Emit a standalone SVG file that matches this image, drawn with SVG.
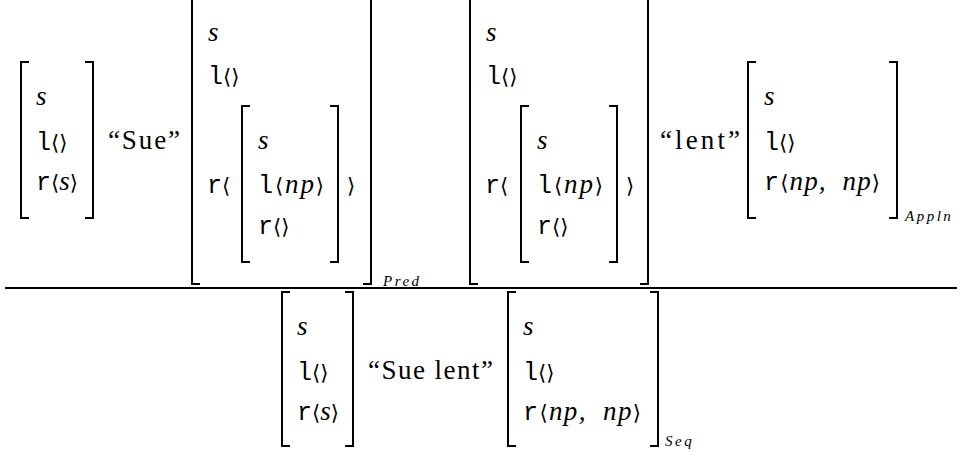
<svg xmlns="http://www.w3.org/2000/svg" width="961" height="452" viewBox="0 0 961 452">
<style>
.br{fill:none;stroke:#000;stroke-width:2}
.tt{font-family:'Liberation Mono',monospace;font-size:25px}
.it{font-family:'Liberation Serif',serif;font-style:italic;font-size:27px}
.ang{font-family:'DejaVu Sans',sans-serif;font-size:21px}
.rm{font-family:'Liberation Serif',serif;font-size:27px}
.sub{font-family:'Liberation Serif',serif;font-style:italic;font-size:15px;letter-spacing:2.5px}
text{fill:#000}
</style>
<rect width="961" height="452" fill="#fff"/>

<g id="matA">
<path class="br" d="M29,62H21V218H29M85,62H93V218H85"/>
<text x="36" y="105" class="it">s</text>
<text x="36" y="150"><tspan class="tt">l</tspan><tspan class="ang">⟨⟩</tspan></text>
<text x="36" y="190"><tspan class="tt">r</tspan><tspan class="ang">⟨</tspan><tspan class="it">s</tspan><tspan class="ang">⟩</tspan></text>
</g>

<g id="wordSue">
<text x="108" y="149" class="rm" textLength="72" lengthAdjust="spacing">“Sue”</text>
</g>

<g id="matB">
<path class="br" d="M200,-4H192V284H200M363,-4H371V284H363"/>
<text x="208" y="41" class="it">s</text>
<text x="208" y="84"><tspan class="tt">l</tspan><tspan class="ang">⟨⟩</tspan></text>
<text x="207" y="193"><tspan class="tt">r</tspan><tspan class="ang">⟨</tspan></text>
<path class="br" d="M250,106H242V262H250M330,106H338V262H330"/>
<text x="258" y="149" class="it">s</text>
<text x="258" y="193" textLength="66" lengthAdjust="spacing"><tspan class="tt">l</tspan><tspan class="ang">⟨</tspan><tspan class="it">np</tspan><tspan class="ang">⟩</tspan></text>
<text x="258" y="234"><tspan class="tt">r</tspan><tspan class="ang">⟨⟩</tspan></text>
<text x="347" y="193" class="ang">⟩</text>
<text x="383" y="286" class="sub">Pred</text>
</g>

<g id="matC">
<path class="br" d="M478,-4H470V284H478M640,-4H648V284H640"/>
<text x="486" y="41" class="it">s</text>
<text x="486" y="84"><tspan class="tt">l</tspan><tspan class="ang">⟨⟩</tspan></text>
<text x="485" y="193"><tspan class="tt">r</tspan><tspan class="ang">⟨</tspan></text>
<path class="br" d="M529,106H521V262H529M609,106H617V262H609"/>
<text x="537" y="149" class="it">s</text>
<text x="537" y="193" textLength="66" lengthAdjust="spacing"><tspan class="tt">l</tspan><tspan class="ang">⟨</tspan><tspan class="it">np</tspan><tspan class="ang">⟩</tspan></text>
<text x="537" y="234"><tspan class="tt">r</tspan><tspan class="ang">⟨⟩</tspan></text>
<text x="626" y="193" class="ang">⟩</text>
</g>

<g id="wordLent">
<text x="660" y="149" class="rm" textLength="80" lengthAdjust="spacing">“lent”</text>
</g>

<g id="matD">
<path class="br" d="M756,62H748V218H756M889,62H897V218H889"/>
<text x="764" y="105" class="it">s</text>
<text x="764" y="150"><tspan class="tt">l</tspan><tspan class="ang">⟨⟩</tspan></text>
<text x="764" y="190" xml:space="preserve" textLength="116" lengthAdjust="spacing"><tspan class="tt">r</tspan><tspan class="ang">⟨</tspan><tspan class="it">np,  np</tspan><tspan class="ang">⟩</tspan></text>
<text x="905" y="221" class="sub">Appln</text>
</g>

<g id="connectors">
<line x1="5" y1="288" x2="957" y2="288" stroke="#000" stroke-width="2"/>
</g>

<g id="matE">
<path class="br" d="M290,292H282V446H290M345,292H353V446H345"/>
<text x="297" y="335" class="it">s</text>
<text x="297" y="380"><tspan class="tt">l</tspan><tspan class="ang">⟨⟩</tspan></text>
<text x="297" y="420"><tspan class="tt">r</tspan><tspan class="ang">⟨</tspan><tspan class="it">s</tspan><tspan class="ang">⟩</tspan></text>
</g>

<g id="wordSueLent">
<text x="368" y="379" class="rm" textLength="125" lengthAdjust="spacing">“Sue lent”</text>
</g>

<g id="matF">
<path class="br" d="M516,292H508V446H516M650,292H658V446H650"/>
<text x="523" y="335" class="it">s</text>
<text x="523" y="380"><tspan class="tt">l</tspan><tspan class="ang">⟨⟩</tspan></text>
<text x="523" y="420" xml:space="preserve" textLength="118" lengthAdjust="spacing"><tspan class="tt">r</tspan><tspan class="ang">⟨</tspan><tspan class="it">np,  np</tspan><tspan class="ang">⟩</tspan></text>
<text x="665" y="446" class="sub" font-size="14">Seq</text>
</g>
</svg>
